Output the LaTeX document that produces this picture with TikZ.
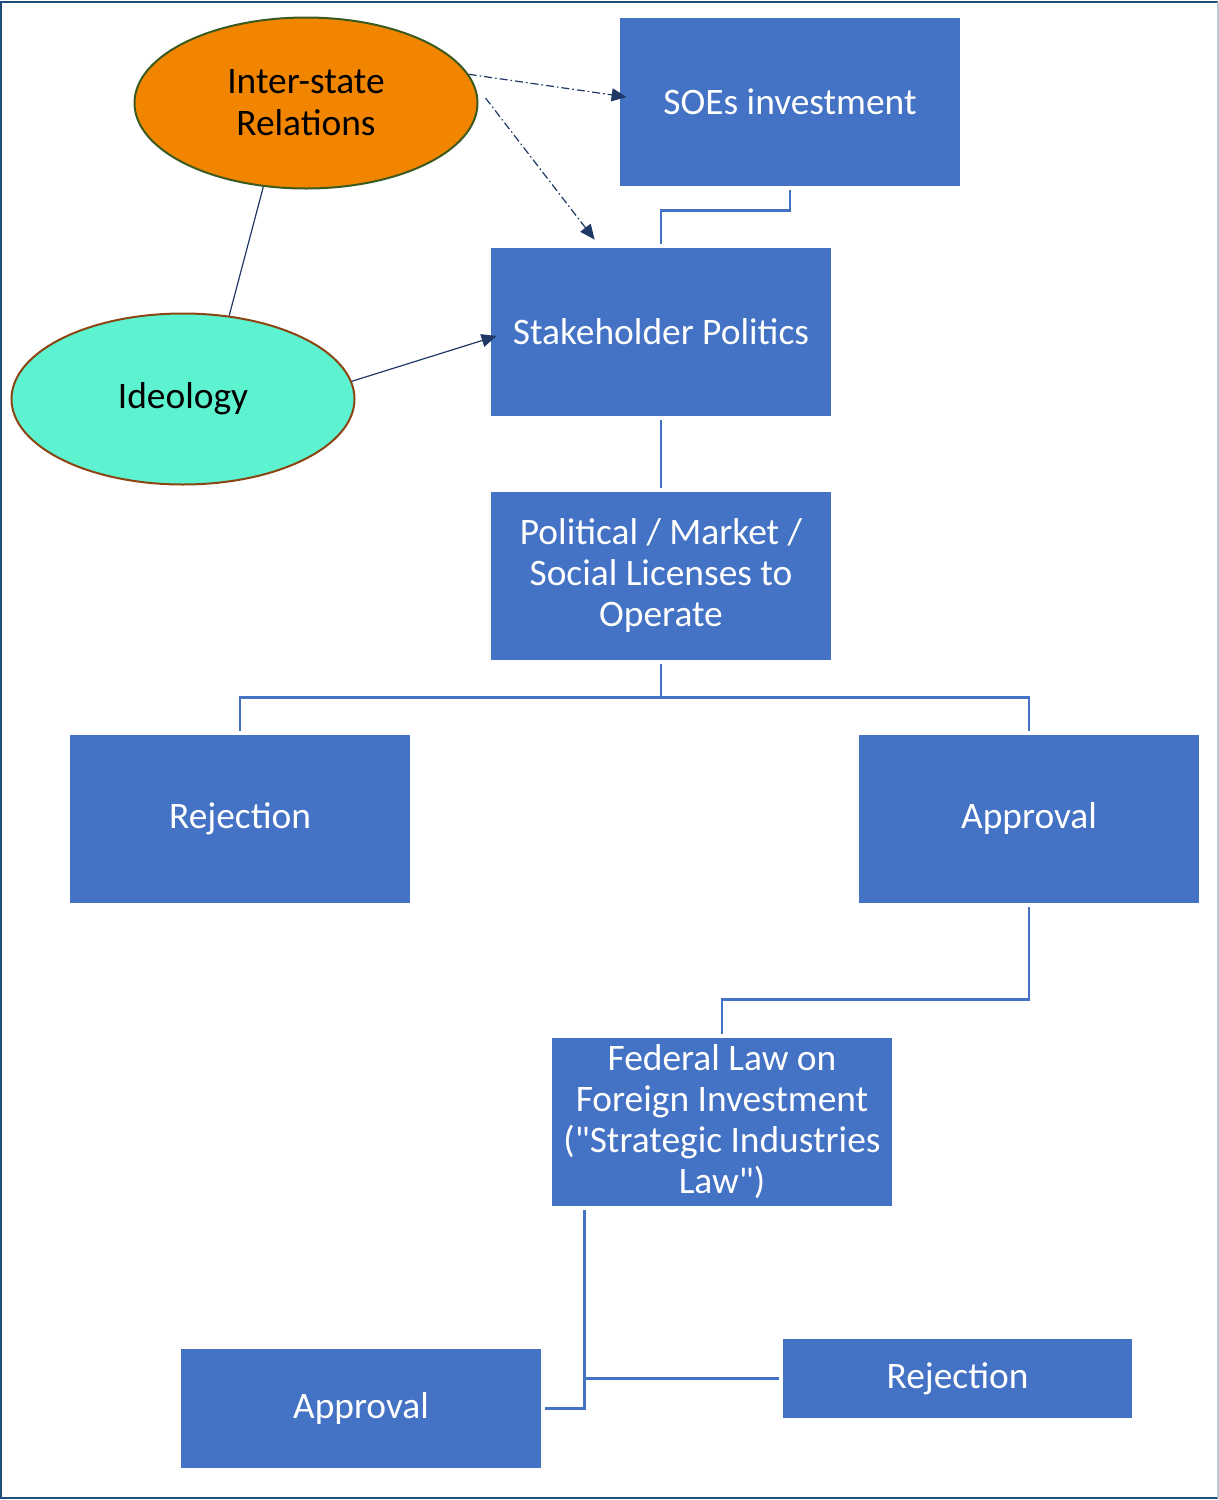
\documentclass[tikz,border=0pt]{standalone}
\usepackage{fontspec}
\setmainfont{Carlito}[Ligatures=TeXOff]
\usetikzlibrary{arrows.meta, positioning, shapes.geometric, calc}

\definecolor{boxblue}{HTML}{4472C4}
\definecolor{navy}{HTML}{203864}
\definecolor{framecol}{HTML}{1F4E79}
\definecolor{orangefill}{HTML}{F28500}
\definecolor{olive}{HTML}{3B5A1F}
\definecolor{aqua}{HTML}{5DF2D0}
\definecolor{rust}{HTML}{8B4513}

\tikzset{
  box/.style={rectangle, fill=boxblue, text=white, minimum width=170pt, minimum height=84pt,
    inner sep=2pt, align=center, font=\fontsize{18.7}{20.5}\selectfont},
  oval/.style={ellipse, minimum width=171.5pt, minimum height=85.5pt, inner sep=0pt,
    line width=1pt, align=center, font=\fontsize{18.7}{21}\selectfont},
  link/.style={draw=boxblue, line width=1.4pt, shorten <=2pt, shorten >=2pt},
  pointer/.style={draw=navy, line width=0.6pt, -{Triangle[length=7.5pt,width=6.5pt]}},
  dashdot/.style={dash pattern=on 4pt off 1.5pt on 0.8pt off 1.5pt}
}

\begin{document}
\begin{tikzpicture}[x=0.5pt,y=-0.5pt]
\useasboundingbox (0,0) rectangle (1219,1500);

% outer frame
\draw[framecol, line width=1pt] (1218,2) -- (1,2) -- (1,1498) -- (1218,1498);
\draw[framecol!30, line width=0.6pt] (1218,2) -- (1218,1498);

% ellipses
\node[oval, fill=orangefill, draw=olive] (inter) at (306,103) {Inter-state\\ Relations};
\node[oval, fill=aqua, draw=rust] (ideo) at (183,399) {Ideology};

% boxes
\node[box] (soes) at (790,102) {SOEs investment};
\node[box] (stake) at (661,332) {Stakeholder Politics};
\node[box] (licence) at (661,576) {Political / Market /\\ Social Licenses to\\ Operate};
\node[box] (rejA) at (240,819) {Rejection};
\node[box] (appA) at (1029,819) {Approval};
\node[box] (fedlaw) at (722,1122) {Federal Law on\\ Foreign Investment\\ ("Strategic Industries\\ Law")};
\node[box, minimum width=180pt, minimum height=59.5pt] (appB) at (361,1408.5) {Approval};
\node[box, minimum width=174.5pt, minimum height=39.5pt] (rejB) at (957.5,1378.5) {Rejection};

% tree connectors
\draw[link] (soes.south) -- ++(0,24) -| (stake.north);
\draw[link] (stake) -- (licence);
\draw[link] (licence.south) -- ++(0,37) -| (rejA.north);
\draw[link] (licence.south) -- ++(0,37) -| (appA.north);
\draw[link] (appA.south) -- ++(0,96) -| (fedlaw.north);
\coordinate (tap) at ([xshift=16.5pt]fedlaw.south west);
\draw[link] (tap) |- (appB.east);
\draw[link, shorten <=0pt] (tap |- rejB.west) -- (rejB.west);

% influences
\draw[pointer, dashdot] (inter.10) -- ($(soes.west)+(7,-5)$);
\draw[pointer, dashdot] ($(inter.east)+(7,-5)$) -- ($(stake.north west)+(104,-8)$);
\draw[pointer] (ideo.6) -- ($(stake.west)+(6,4)$);
\draw[navy, line width=0.6pt] (inter.243) -- (ideo.61);
\end{tikzpicture}
\end{document}
